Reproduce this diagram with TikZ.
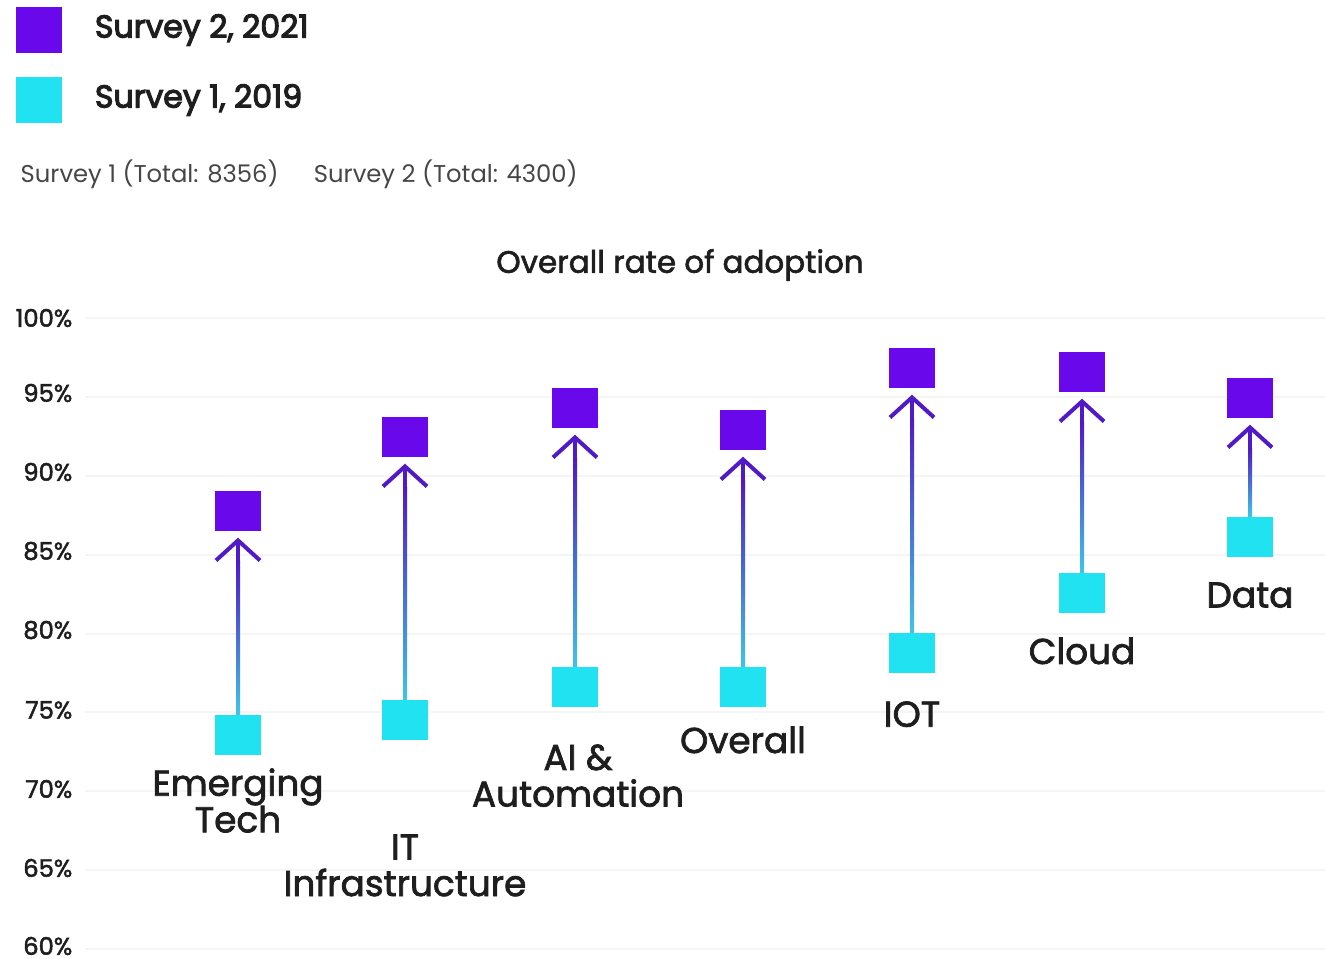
\documentclass[tikz,border=0pt]{standalone}
\usepackage{fontspec}
\setmainfont{Poppins}
\newfontfamily\medium[FakeBold=2]{Poppins}
\newfontfamily\semibold[FakeBold=3.5]{Poppins}
\usetikzlibrary{arrows.meta}
\usetikzlibrary{calc}
\usetikzlibrary{positioning}
\definecolor{surveytwo}{RGB}{106,8,236}
\definecolor{surveyone}{RGB}{32,226,240}
\definecolor{shaftlow}{RGB}{64,196,228}
\definecolor{shafttop}{RGB}{80,26,198}
\definecolor{inkgray}{RGB}{30,30,30}
\definecolor{notegray}{RGB}{70,70,70}
\tikzset{
    newval/.style={
           rectangle,
           fill=surveytwo,
           minimum width=0.46cm,
           minimum height=0.40cm,
           inner sep=0pt,
           },
    oldval/.style={newval, fill=surveyone},
    catlabel/.style={font=\medium\fontsize{10.2}{10.4}\selectfont, text=inkgray, align=center, inner sep=0pt},
    ticklabel/.style={font=\medium\fontsize{6.9}{7}\selectfont, text=inkgray, anchor=east, inner sep=0pt},
    keylabel/.style={font=\semibold\fontsize{9}{10}\selectfont, text=inkgray, anchor=west, inner sep=0pt},
    notelabel/.style={font=\fontsize{6.9}{7.5}\selectfont, text=notegray, inner sep=0pt},
    gridline/.style={draw=black!4, line width=0.5pt},
    rise/.style={draw=shafttop, line width=1.14pt,
           -{Straight Barb[length=0.2cm,width=0.44cm]}, shorten >=0.06cm},
}

\begin{document}
\begin{tikzpicture}[x=0.01cm,y=-0.01cm]

 % page frame, same size as the chart image
 \useasboundingbox (0,0) rectangle (1325,958);

 % legend
 \node[newval, minimum width=0.45cm, minimum height=0.45cm] (KEYNEW) at (39,30) {};
 \node[keylabel, right=0.32cm of KEYNEW.east, anchor=west] (KEYNEWTXT) {Survey 2, 2021};
 \node[oldval, minimum width=0.45cm, minimum height=0.45cm] (KEYOLD) at (39,100) {};
 \node[keylabel, right=0.32cm of KEYOLD.east, anchor=west] (KEYOLDTXT) {Survey 1, 2019};

 % sample sizes
 \node[notelabel, anchor=west] (TOTONE) at (20,174) {Survey 1 (Total: 8356)};
 \node[notelabel, right=0.34cm of TOTONE] (TOTTWO) {Survey 2 (Total: 4300)};

 % chart title
 \node[font=\medium\fontsize{8.8}{9}\selectfont, text=inkgray] (TITLE) at (680,265) {Overall rate of adoption};

 % horizontal grid and percent scale
 \draw[gridline] (85,318) -- (1325,318);
 \draw[gridline] (85,397) -- (1325,397);
 \draw[gridline] (85,476) -- (1325,476);
 \draw[gridline] (85,555) -- (1325,555);
 \draw[gridline] (85,634) -- (1325,634);
 \draw[gridline] (85,712) -- (1325,712);
 \draw[gridline] (85,791) -- (1325,791);
 \draw[gridline] (85,870) -- (1325,870);
 \draw[gridline] (85,949) -- (1325,949);
 \node[ticklabel] (T100) at (73,318) {100\%};
 \node[ticklabel] (T95) at (73,393) {95\%};
 \node[ticklabel] (T90) at (73,472) {90\%};
 \node[ticklabel] (T85) at (73,551) {85\%};
 \node[ticklabel] (T80) at (73,630) {80\%};
 \node[ticklabel] (T75) at (73,710) {75\%};
 \node[ticklabel] (T70) at (73,789) {70\%};
 \node[ticklabel] (T65) at (73,868) {65\%};
 \node[ticklabel] (T60) at (73,946) {60\%};

 % survey 1 values (2019)
 \node[oldval] (OLDEMERG) at (238,735) {};
 \node[oldval] (OLDINFRA) at (405,720) {};
 \node[oldval] (OLDAUTO) at (575,687) {};
 \node[oldval] (OLDALL) at (743,687) {};
 \node[oldval] (OLDIOT) at (912,653) {};
 \node[oldval] (OLDCLOUD) at (1082,593) {};
 \node[oldval] (OLDDATA) at (1250,537) {};

 % survey 2 values (2021)
 \node[newval] (NEWEMERG) at (238,511) {};
 \node[newval] (NEWINFRA) at (405,437) {};
 \node[newval] (NEWAUTO) at (575,408) {};
 \node[newval] (NEWALL) at (743,430) {};
 \node[newval] (NEWIOT) at (912,368) {};
 \node[newval] (NEWCLOUD) at (1082,372) {};
 \node[newval] (NEWDATA) at (1250,398) {};

 % category names below the 2019 squares
 \node[catlabel, below=0.12cm of OLDEMERG] (LEMERG) {Emerging\\Tech};
 \node[catlabel, below=0.93cm of OLDINFRA] (LINFRA) {IT\\Infrastructure};
 \node[catlabel, below=0.36cm of OLDAUTO, xshift=0.03cm] (LAUTO) {AI \&\\Automation};
 \node[catlabel, below=0.18cm of OLDALL] (LALL) {Overall};
 \node[catlabel, below=0.27cm of OLDIOT] (LIOT) {IOT};
 \node[catlabel, below=0.23cm of OLDCLOUD] (LCLOUD) {Cloud};
 \node[catlabel, below=0.24cm of OLDDATA] (LDATA) {Data};

 % change arrows, shaft shaded from 2019 colour to 2021 colour
 \draw[rise] (OLDEMERG) -- (NEWEMERG);
 \shade[bottom color=shaftlow, top color=shafttop] ($(OLDEMERG.north)+(-0.02cm,0)$) rectangle ($(NEWEMERG.south)+(0.02cm,-0.3cm)$);
 \draw[rise] (OLDINFRA) -- (NEWINFRA);
 \shade[bottom color=shaftlow, top color=shafttop] ($(OLDINFRA.north)+(-0.02cm,0)$) rectangle ($(NEWINFRA.south)+(0.02cm,-0.3cm)$);
 \draw[rise] (OLDAUTO) -- (NEWAUTO);
 \shade[bottom color=shaftlow, top color=shafttop] ($(OLDAUTO.north)+(-0.02cm,0)$) rectangle ($(NEWAUTO.south)+(0.02cm,-0.3cm)$);
 \draw[rise] (OLDALL) -- (NEWALL);
 \shade[bottom color=shaftlow, top color=shafttop] ($(OLDALL.north)+(-0.02cm,0)$) rectangle ($(NEWALL.south)+(0.02cm,-0.3cm)$);
 \draw[rise] (OLDIOT) -- (NEWIOT);
 \shade[bottom color=shaftlow, top color=shafttop] ($(OLDIOT.north)+(-0.02cm,0)$) rectangle ($(NEWIOT.south)+(0.02cm,-0.3cm)$);
 \draw[rise] (OLDCLOUD) -- (NEWCLOUD);
 \shade[bottom color=shaftlow, top color=shafttop] ($(OLDCLOUD.north)+(-0.02cm,0)$) rectangle ($(NEWCLOUD.south)+(0.02cm,-0.3cm)$);
 \draw[rise] (OLDDATA) -- (NEWDATA);
 \shade[bottom color=shaftlow, top color=shafttop] ($(OLDDATA.north)+(-0.02cm,0)$) rectangle ($(NEWDATA.south)+(0.02cm,-0.3cm)$);

\end{tikzpicture}
\end{document}
